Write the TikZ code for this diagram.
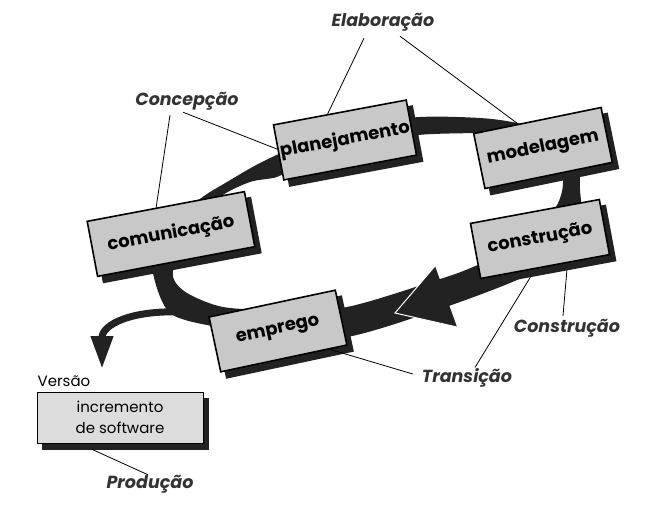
\documentclass[tikz,border=0pt]{standalone}
\usepackage{fontspec}
\setmainfont{Poppins}
\usetikzlibrary{calc, arrows.meta}

\definecolor{ringblack}{HTML}{222222}
\definecolor{boxgray}{HTML}{C8C8C8}
\definecolor{notegray}{HTML}{DCDCDC}
\definecolor{labelgray}{HTML}{333333}

\begin{document}
\begin{tikzpicture}[x = 1pt, y = -1pt, > = latex,
	phase/.style = {draw, line width = 1.6pt, fill = boxgray, minimum height = 56pt, inner sep = 0pt,
		font = \bfseries\fontsize{18}{18}\selectfont},
	shade/.style = {draw = ringblack, line width = 1.6pt, fill = ringblack, minimum height = 56pt, inner sep = 0pt},
	stage/.style = {font = \bfseries\itshape\fontsize{17.5}{17.5}\selectfont, text = labelgray, inner sep = 1pt},
	leader/.style = {line width = 0.8pt}]

	\useasboundingbox (0, 0) rectangle (654, 509);

	% Draw ring

	\fill [ringblack, even odd rule]
		plot [smooth cycle] coordinates {(153, 273) (170, 313) (217, 327) (280, 336) (347, 337) (437, 310) (517, 280) (560, 255) (580, 215) (580, 190) (578, 165) (560, 135) (517, 123) (480, 118) (420, 117) (360, 125) (300, 145) (260, 163) (227, 182) (200, 199) (175, 225) (158, 250)}
		plot [smooth cycle] coordinates {(173, 277) (187, 293) (223, 307) (280, 310) (347, 307) (437, 280) (473, 267) (530, 240) (557, 205) (563, 180) (555, 150) (517, 133) (480, 133) (418, 135) (360, 145) (300, 165) (277, 177) (250, 182) (220, 197) (195, 225) (178, 255)};

	% Draw arrowheads

	\coordinate (tip) at (395, 313);
	\coordinate (barb1) at (435, 266);
	\coordinate (barb2) at (457, 327);
	\fill [ringblack] (tip) -- (barb1) -- (barb2) -- cycle;
	\draw [white, line width = 1pt] (barb1) -- (tip) -- (barb2);

	\coordinate (fork) at (182, 312);
	\coordinate (release) at (102, 369);
	\draw [ringblack, line width = 7pt, -{Triangle[length = 33pt, width = 21pt]}] (fork) .. controls (130, 310) and (102, 325) .. (release);

	% Draw phases

	\foreach \n/\x/\y/\a/\w/\t in {comm/171/234/10.7/160/comunicação, plan/345/140/10.6/135/planejamento, model/543/148/11.6/130/modelagem, constr/540/239/10.5/131/construção, deploy/278/331/12/129/emprego}
	{
		\node [shade, rotate = \a, minimum width = \w pt] (\n-shade) at ({\x + 6}, {\y + 6}) {};
		\node [phase, rotate = \a, minimum width = \w pt] (\n) at (\x, \y) {\t};
	}

	% Draw release

	\node [draw = ringblack, fill = ringblack, minimum width = 166pt, minimum height = 51pt] (incr-shade) at (125, 423.5) {};
	\node [draw, line width = 1pt, fill = notegray, minimum width = 166pt, minimum height = 51pt, align = center,
		font = \fontsize{15}{21}\selectfont] (incr) at (120, 417.5) {incremento\\de software};
	\node [anchor = base west, inner sep = 0pt, font = \fontsize{15}{15}\selectfont] (version) at ($(incr.north west) + (1, -5)$) {Versão};

	% Draw stages

	\node [stage] (conception) at (187, 101) {Concepção};
	\node [stage] (elaboration) at (383, 22) {Elaboração};
	\node [stage] (construction) at (567, 328) {Construção};
	\node [stage] (transition) at (467, 378) {Transição};
	\node [stage] (production) at (150, 484) {Produção};

	\draw [leader] ($(conception.south) + (-17, 4)$) -- ($(comm.north west)!0.44!(comm.north east)$);
	\draw [leader] ($(conception.south) + (-4, 1)$) -- ($(plan.north west)!0.44!(plan.south west)$);
	\draw [leader] ($(elaboration.south) + (-19, 6)$) -- ($(plan.north west)!0.41!(plan.north east)$);
	\draw [leader] ($(elaboration.south) + (17, 4)$) -- ($(model.north west)!0.35!(model.north east)$);
	\draw [leader] ($(construction.north) + (-4, -2)$) -- ($(constr-shade.south west)!0.62!(constr-shade.south east)$);
	\draw [leader] ($(transition.north) + (8, 0)$) -- ($(constr-shade.south west)!0.34!(constr-shade.south east)$);
	\draw [leader] ($(transition.west) + (-8, -4)$) -- ($(deploy.south west)!0.86!(deploy.south east)$);
	\draw [leader] ($(production.north) + (-2, 1)$) -- ($(incr-shade.south west)!0.3!(incr-shade.south east)$);

\end{tikzpicture}
\end{document}
